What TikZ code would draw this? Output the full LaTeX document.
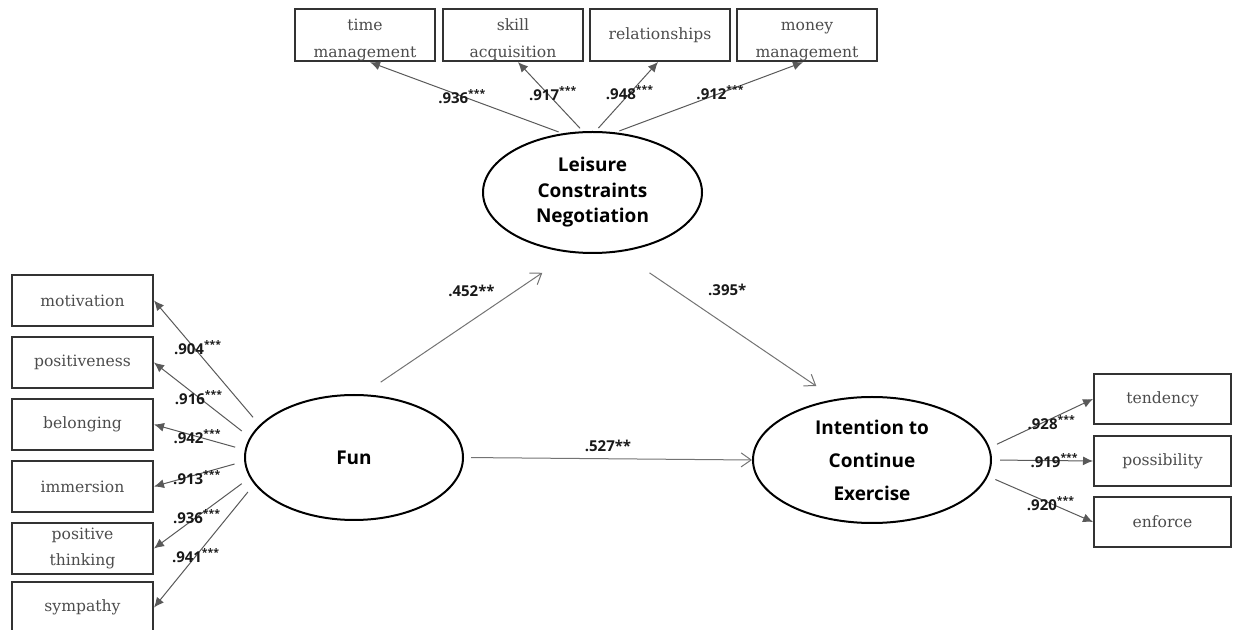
\documentclass[tikz,border=0pt]{standalone}
\usepackage{fontspec}
\setmainfont{DejaVu Serif}
\setsansfont{Open Sans}
\usetikzlibrary{shapes.geometric, positioning, arrows.meta}

\newcommand{\lowstrut}{\rule{0pt}{11pt}}

\begin{document}
\begin{tikzpicture}[x=0.5pt, y=-0.5pt,
  obs/.style={draw=black!80, line width=1pt, minimum width=70pt, minimum height=25.5pt, inner sep=0pt, align=center, text=black!70, font=\fontsize{7.8}{13}\selectfont},
  tbox/.style={obs, minimum height=26pt, font=\fontsize{7.8}{13.5}\selectfont},
  lat/.style={ellipse, draw, line width=1pt, inner sep=0pt, align=center, font=\sffamily\bfseries\fontsize{9.5}{12.75}\selectfont},
  load/.style={draw=black!65, line width=0.5pt, -{Latex[length=5pt,width=4.5pt]}},
  eff/.style={draw=black!55, line width=0.5pt, -{Straight Barb[length=5pt,width=7pt]}},
  coef/.style={font=\sffamily\bfseries\fontsize{7.5}{9}\selectfont, inner sep=0.5pt, text=black!90}]
  \useasboundingbox (0,0) rectangle (1233,630);
  % latent variables
  \node[lat, minimum width=109pt, minimum height=62.5pt] (fun) at (354,457.5) {Fun};
  \node[lat, minimum width=109.5pt, minimum height=60.5pt] (lcn) at (592.5,192.5) {Leisure\\Constraints\\Negotiation};
  \node[lat, minimum width=119pt, minimum height=63pt, font=\sffamily\bfseries\fontsize{9.5}{16.5}\selectfont] (ice) at (872,460) {Intention to\\Continue\\Exercise};
  % indicators
  \node[tbox] (timem) at (365,35) {\lowstrut time\\management};
  \node[tbox, right=3pt of timem] (skill) {\lowstrut skill\\acquisition};
  \node[tbox, right=2.5pt of skill] (relat) {relationships};
  \node[tbox, right=2.5pt of relat] (money) {\lowstrut money\\management};
  \node[obs, minimum width=70.5pt] (motiv) at (82.5,300.5) {motivation};
  \node[obs, minimum width=70.5pt, below=4.5pt of motiv] (posit) {positiveness};
  \node[obs, minimum width=70.5pt, below=4.5pt of posit] (belong) {belonging};
  \node[obs, minimum width=70.5pt, below=4.5pt of belong] (immer) {immersion};
  \node[obs, minimum width=70.5pt, below=4.5pt of immer] (pthink) {positive\\thinking};
  \node[obs, minimum width=70.5pt, below=3pt of pthink] (sympa) {sympathy};
  \node[obs, minimum width=68.5pt, minimum height=25pt] (tend) at (1162.5,399) {tendency};
  \node[obs, minimum width=68.5pt, minimum height=25pt, below=5pt of tend] (possi) {possibility};
  \node[obs, minimum width=68.5pt, minimum height=25pt, below=4.5pt of possi] (enfor) {enforce};
  % loadings
  \draw[load, shorten <=2pt] (lcn.117.5) -- node[coef, pos=0.52] {.936\textsuperscript{***}} ([xshift=2.5pt]timem.south);
  \draw[load, shorten <=2pt] (lcn.99.2) -- node[coef, pos=0.55, xshift=3pt] {.917\textsuperscript{***}} ([xshift=2.5pt]skill.south);
  \draw[load, shorten <=2pt] (lcn.87.8) -- node[coef, pos=0.55] {.948\textsuperscript{***}} ([xshift=-1pt]relat.south);
  \draw[load, shorten <=2pt] (lcn.69.2) -- node[coef, pos=0.56] {.912\textsuperscript{***}} ([xshift=-2pt]money.south);
  \draw[load, shorten <=5pt] (fun.161.6) -- node[coef, pos=0.62, xshift=2pt] {.904\textsuperscript{***}} (motiv.east);
  \draw[load, shorten <=5pt] (fun.169.6) -- node[coef, pos=0.53] {.916\textsuperscript{***}} (posit.east);
  \draw[load, shorten <=5pt] (fun.176.4) -- node[coef, pos=0.52] {.942\textsuperscript{***}} (belong.east);
  \draw[load, shorten <=5pt] (fun.182.2) -- node[coef, pos=0.52, yshift=-1.5pt] {.913\textsuperscript{***}} (immer.east);
  \draw[load, shorten <=5pt] (fun.191) -- node[coef, pos=0.55] {.936\textsuperscript{***}} (pthink.east);
  \draw[load, shorten <=5pt] (fun.195.6) -- node[coef, pos=0.58] {.941\textsuperscript{***}} (sympa.east);
  \draw[load, shorten <=4pt] (ice.6) -- node[coef, pos=0.6, yshift=-2pt] {.928\textsuperscript{***}} (tend.west);
  \draw[load, shorten <=4pt] (ice.0) -- node[coef, pos=0.62] {.919\textsuperscript{***}} (possi.west);
  \draw[load, shorten <=4pt] (ice.352) -- node[coef, pos=0.6] {.920\textsuperscript{***}} (enfor.west);
  % structural paths
  \draw[eff, shorten <=10.75pt, shorten >=17.75pt] (fun.82.5) -- node[coef, pos=0.52, yshift=15pt] {.452**} (lcn.251.3);
  \draw[eff, shorten <=18.4pt, shorten >=11.5pt] (lcn.294.9) -- node[coef, pos=0.5, yshift=18pt] {.395*} (ice.121);
  \draw[eff, shorten <=3.5pt] (fun.east) -- node[coef, above=3pt] {.527**} (ice.west);
\end{tikzpicture}
\end{document}
